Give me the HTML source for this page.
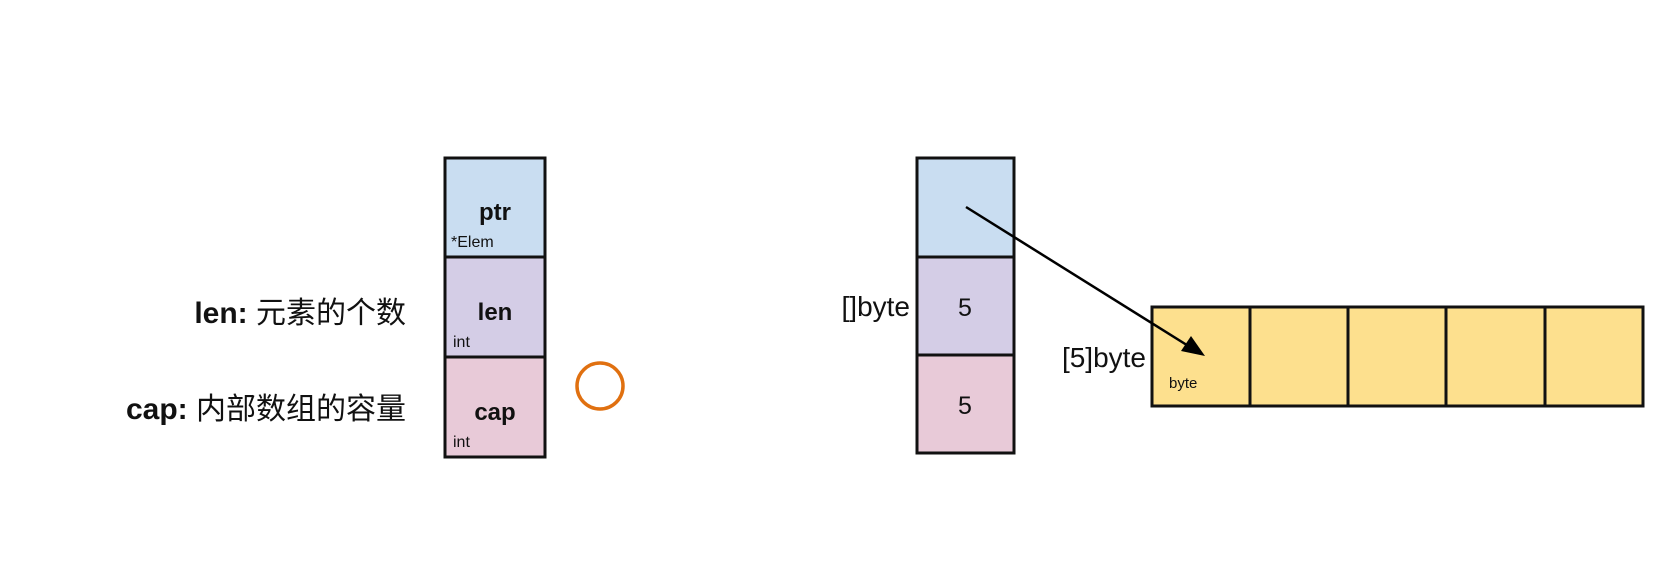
<!DOCTYPE html>
<html><head><meta charset="utf-8"><style>
body{margin:0;background:#fff;}
</style></head><body>
<svg width="1678" height="558" xmlns="http://www.w3.org/2000/svg" font-family="Liberation Sans, Noto Sans CJK SC, sans-serif">
<g stroke="#111" stroke-width="3">
<rect x="445" y="158" width="100" height="99" fill="#c9ddf1"/>
<rect x="445" y="257" width="100" height="100" fill="#d4cde6"/>
<rect x="445" y="357" width="100" height="100" fill="#e8cad8"/>
<rect x="917" y="158" width="97" height="99" fill="#c9ddf1"/>
<rect x="917" y="257" width="97" height="98" fill="#d4cde6"/>
<rect x="917" y="355" width="97" height="98" fill="#e8cad8"/>
<rect x="1152" y="307" width="98" height="99" fill="#fde08e"/>
<rect x="1250" y="307" width="98" height="99" fill="#fde08e"/>
<rect x="1348" y="307" width="98" height="99" fill="#fde08e"/>
<rect x="1446" y="307" width="99" height="99" fill="#fde08e"/>
<rect x="1545" y="307" width="98" height="99" fill="#fde08e"/>
</g>
<line x1="966" y1="207" x2="1198" y2="352" stroke="#000" stroke-width="2.5"/>
<path d="M1205,356 L1181,351 L1191,336 z" fill="#000"/>
<circle cx="600" cy="386" r="23" fill="none" stroke="#e07010" stroke-width="3.5"/>
<g fill="#111" text-anchor="middle" font-weight="bold" font-size="24">
<text x="495" y="220">ptr</text>
<text x="495" y="320">len</text>
<text x="495" y="420">cap</text>
</g>
<g fill="#111" text-anchor="middle" font-size="25">
<text x="965" y="316">5</text>
<text x="965" y="414">5</text>
</g>
<g fill="#111" font-size="16">
<text x="451" y="247">*Elem</text>
<text x="453" y="347">int</text>
<text x="453" y="447">int</text>
<text x="1169" y="388" font-size="15">byte</text>
</g>
<g fill="#111" font-size="28" text-anchor="end">
<text x="910" y="316">[]byte</text>
<text x="1146" y="367">[5]byte</text>
</g>
<g fill="#111" font-size="30" text-anchor="end">
<text x="406" y="323"><tspan font-weight="bold">len:</tspan> 元素的个数</text>
<text x="406" y="419"><tspan font-weight="bold">cap:</tspan> 内部数组的容量</text>
</g>
</svg>
</body></html>
